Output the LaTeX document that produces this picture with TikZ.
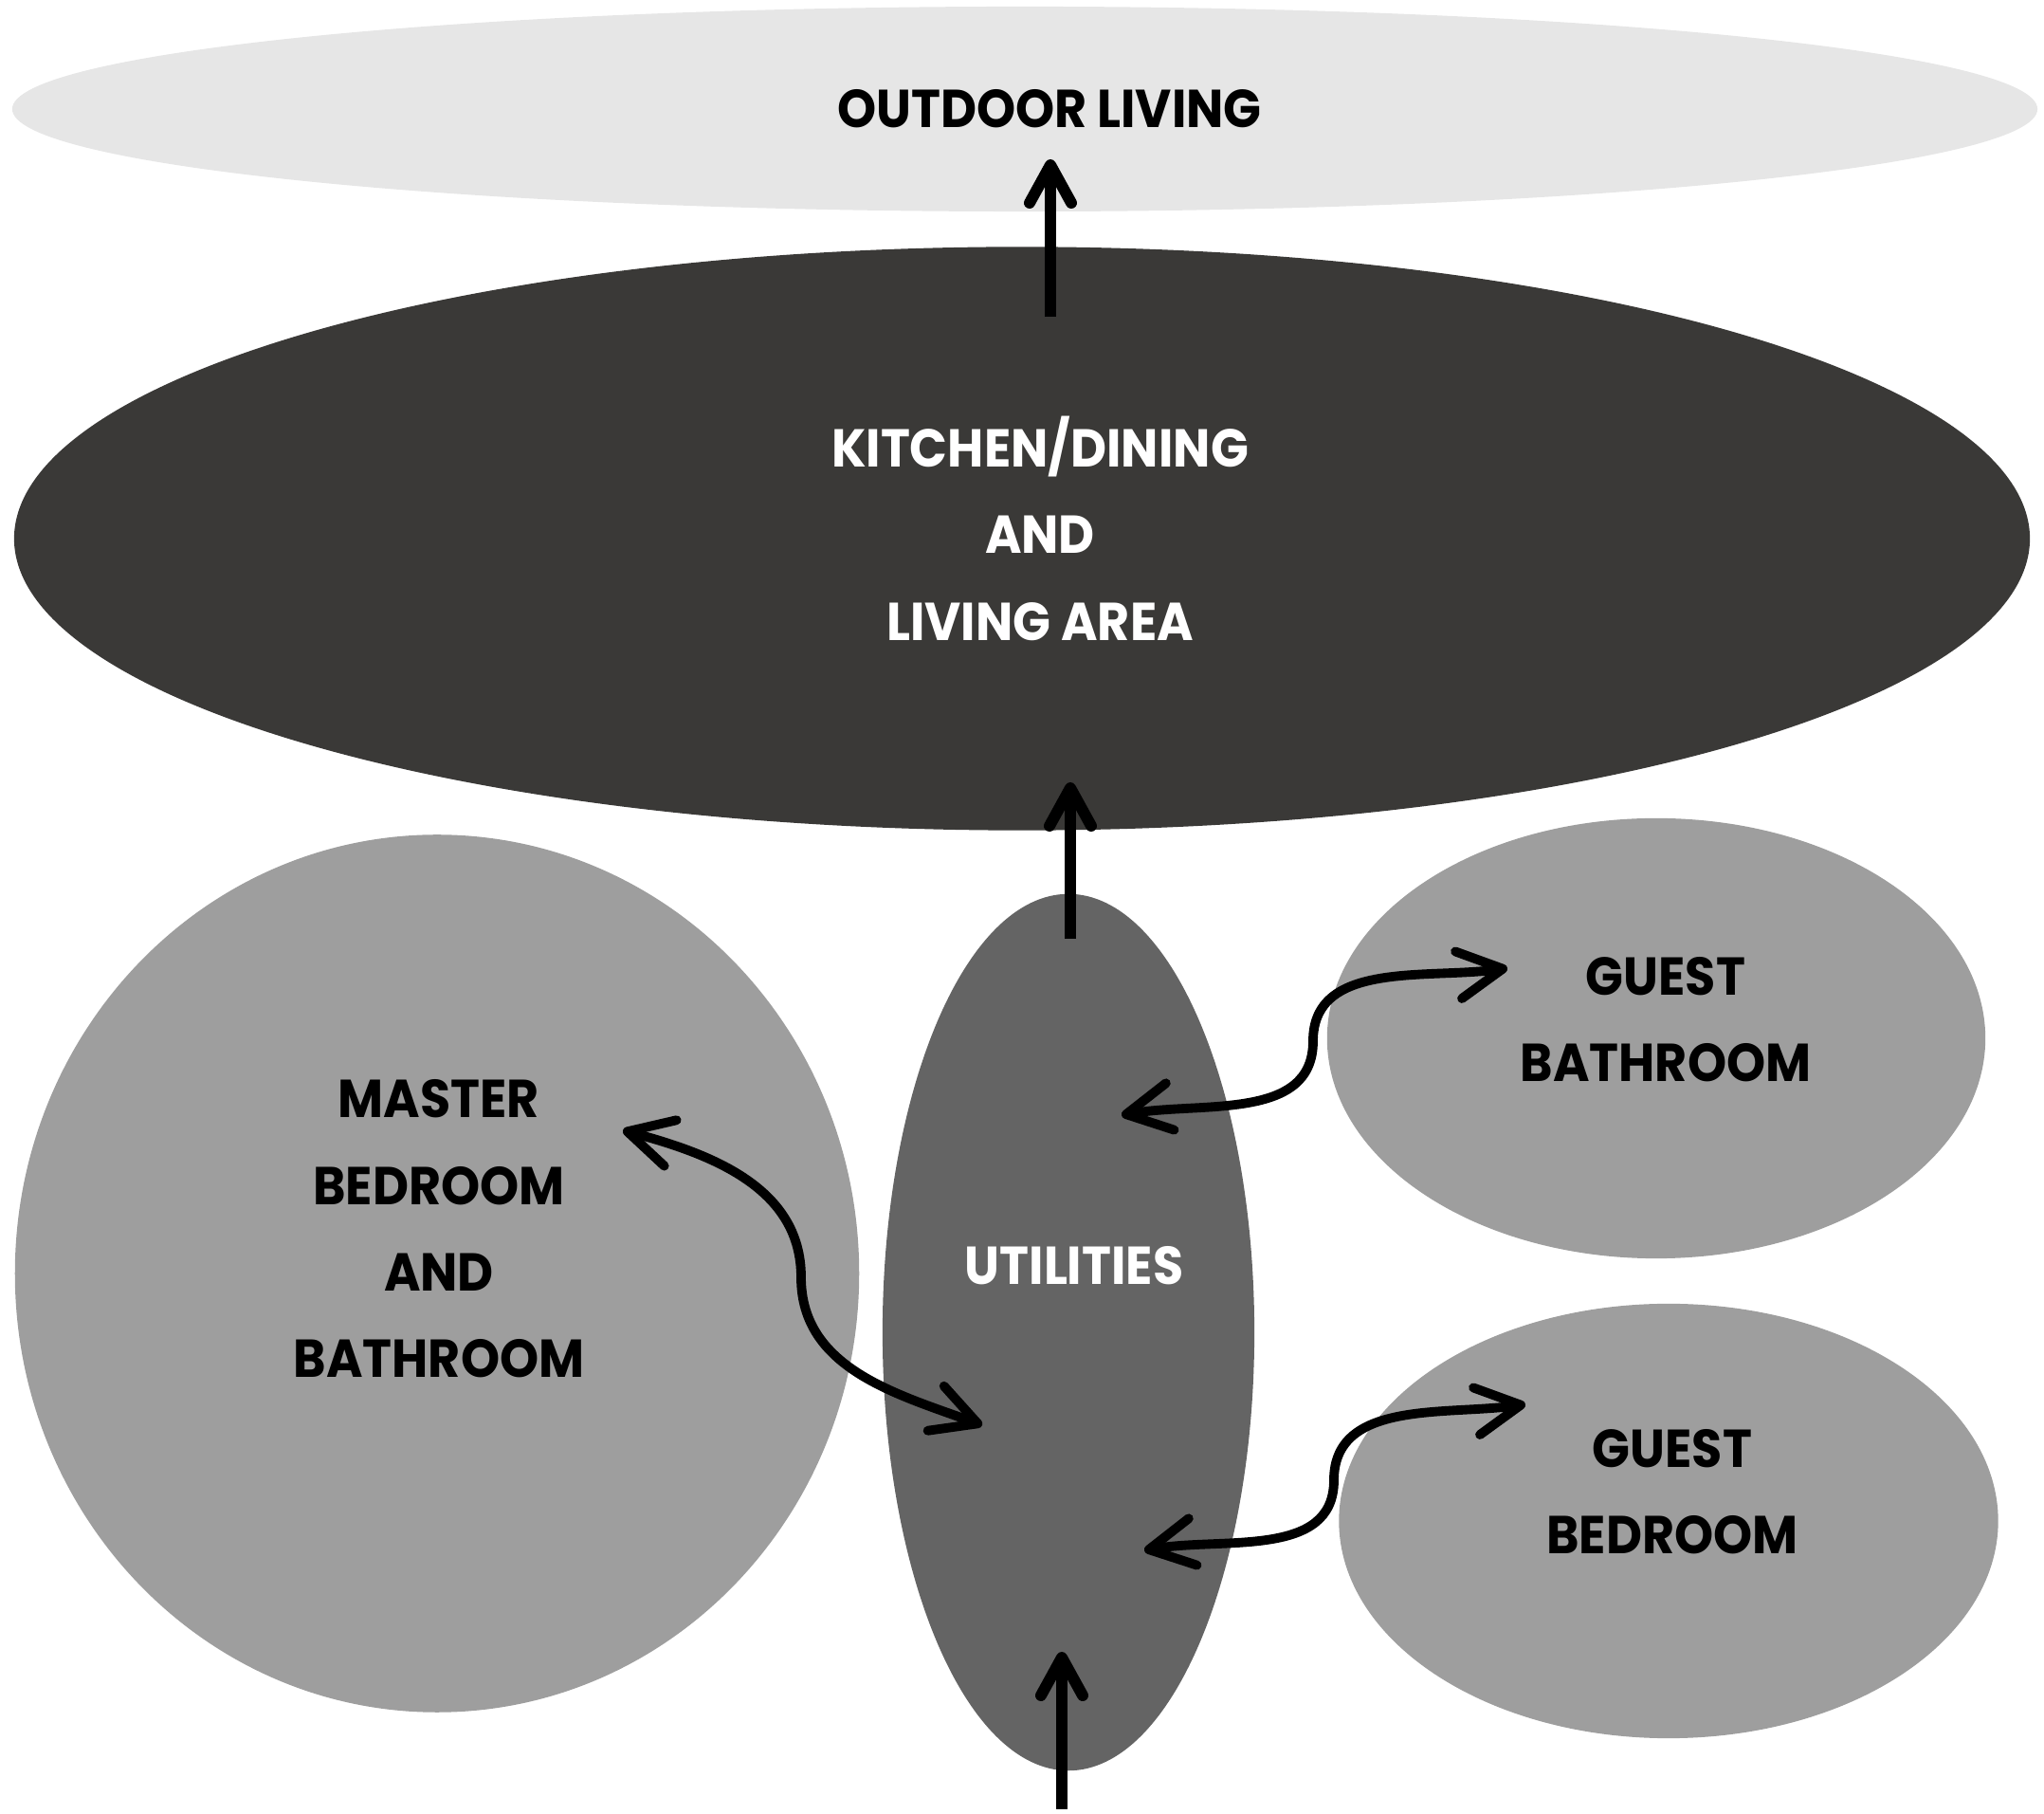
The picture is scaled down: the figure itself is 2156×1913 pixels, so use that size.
\documentclass[tikz,border=0pt]{standalone}
\usepackage{fontspec}
\setmainfont{Poppins}[BoldFont={* Bold}, FakeStretch=0.93]
\usepackage{tikz}
\usetikzlibrary{arrows.meta}
\usetikzlibrary{shapes.geometric}
\definecolor{outdoorgray}{HTML}{E6E6E6}
\definecolor{kitchengray}{HTML}{3A3937}
\definecolor{roomgray}{HTML}{9E9E9E}
\definecolor{utilgray}{HTML}{646464}
\tikzset{
    zone/.style={
        ellipse,
        inner sep=0pt,
        draw=none
    },
    zonetext/.style={
        font=\fontsize{16}{26}\selectfont\bfseries,
        align=center,
        inner sep=0pt
    },
    flow/.style={
        draw,
        line width=3.4pt,
        -{Straight Barb[length=4mm, width=4.4mm, round]}
    },
    twoway/.style={
        draw,
        line width=2.8pt,
        {Straight Barb[length=4.7mm, width=5mm, round]}-{Straight Barb[length=4.7mm, width=5mm, round]}
    }
}

\begin{document}
\begin{tikzpicture}[x=0.01cm, y=-0.01cm]
    \useasboundingbox (0,0) rectangle (2156,1913);
    % Zones
    \node[zone, fill=outdoorgray, minimum width=21.35cm, minimum height=2.16cm] (outdoor) at (1081,115) {};
    \node[zone, fill=kitchengray, minimum width=21.25cm, minimum height=6.15cm] (kitchen) at (1078,568) {};
    \node[zone, fill=roomgray, minimum width=8.9cm, minimum height=9.25cm] (master) at (461,1343) {};
    \node[zone, fill=utilgray, minimum width=3.92cm, minimum height=9.24cm] (util) at (1127,1405) {};
    \node[zone, fill=roomgray, minimum width=6.94cm, minimum height=4.64cm] (gbath) at (1747,1095) {};
    \node[zone, fill=roomgray, minimum width=6.95cm, minimum height=4.58cm] (gbed) at (1760,1604) {};

    % Labels
    \node[zonetext] (outdoorlbl) at (1107,115) {OUTDOOR LIVING};
    \node[zonetext, text=white] (kitchenlbl) at (1097,557) {KITCHEN/DINING\\AND\\LIVING AREA};
    \node[zonetext] (masterlbl) at (463,1296) {MASTER\\BEDROOM\\AND\\BATHROOM};
    \node[zonetext, text=white] (utillbl) at (1133,1335) {UTILITIES};
    \node[zonetext] (gbathlbl) at (1757,1075) {GUEST\\BATHROOM};
    \node[zonetext] (gbedlbl) at (1764,1573) {GUEST\\BEDROOM};

    % Arrow ends
    \coordinate (k1) at (1108,334);
    \coordinate (o1) at (1108,168);
    \coordinate (u1) at (1129,990);
    \coordinate (k2) at (1129,825);
    \coordinate (in1) at (1120,1908);
    \coordinate (u2) at (1120,1742);
    \coordinate (m1) at (657,1192);
    \coordinate (m2) at (845,1347);
    \coordinate (u3) at (1036,1503);
    \coordinate (u4) at (1183,1176);
    \coordinate (b2) at (1385,1098);
    \coordinate (b1) at (1590,1021);
    \coordinate (u5) at (1207,1635);
    \coordinate (d2) at (1407,1561);
    \coordinate (d1) at (1609,1481);

    % Connectors
    \draw[flow] (k1) -- (o1);
    \draw[flow] (u1) -- (k2);
    \draw[flow] (in1) -- (u2);
    \draw[twoway] (m1) to[out=-15, in=90] (m2) to[out=-90, in=160] (u3);
    \draw[twoway] (u4) to[out=10, in=-90] (b2) to[out=90, in=-172] (b1);
    \draw[twoway] (u5) to[out=10, in=-90] (d2) to[out=90, in=-172] (d1);
\end{tikzpicture}
\end{document}
